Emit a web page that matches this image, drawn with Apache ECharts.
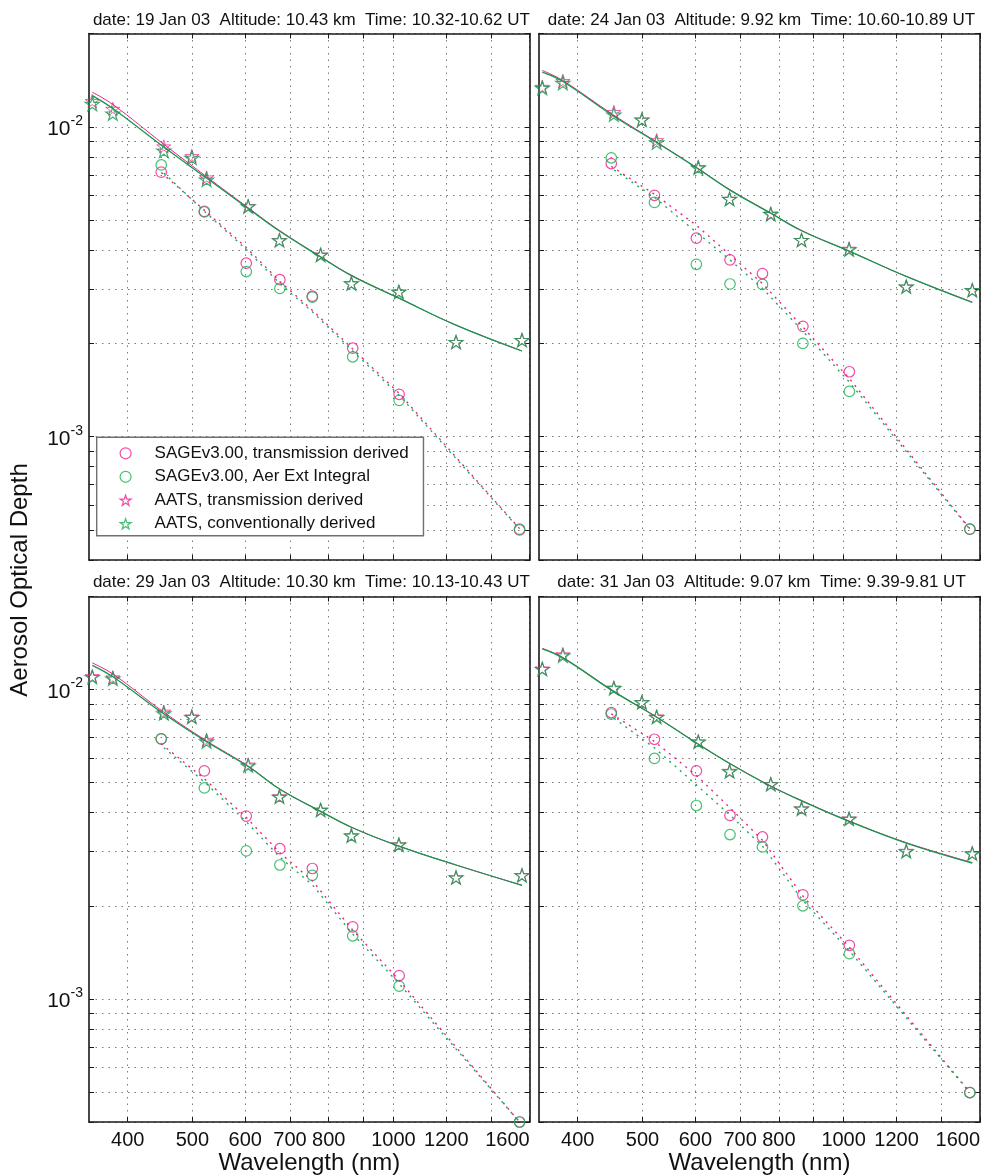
<!DOCTYPE html>
<html><head><meta charset="utf-8">
<script src="https://cdn.jsdelivr.net/npm/echarts@6/dist/echarts.min.js"></script>
<style>html,body{margin:0;padding:0;background:#fff}#c{width:992px;height:1176px}</style>
</head><body><div id="c"></div><script>
// ---------- DATA ----------
const wlAATS = [354, 380, 453, 499, 525, 606, 675, 778, 865, 1019, 1241, 1558];
const wlFit  = [354, 380, 453, 525, 606, 675, 778, 865, 1019, 1241, 1558];
const wlSAGE = [449, 521, 602, 676, 756, 869, 1020, 1545];

const xTickValues  = [400, 500, 600, 700, 800, 900, 1000, 1200, 1400, 1600];
const xLabelValues = [400, 500, 600, 700, 800, 1000, 1200, 1600];
const yTickValues  = [0.0004, 0.0005, 0.0006, 0.0007, 0.0008, 0.0009, 0.001, 0.002, 0.003, 0.004, 0.005, 0.006, 0.007, 0.008, 0.009, 0.01, 0.02];
const yLabelValues = [0.001, 0.01];

const titles = [
  'date: 19 Jan 03  Altitude: 10.43 km  Time: 10.32-10.62 UT',
  'date: 24 Jan 03  Altitude: 9.92 km  Time: 10.60-10.89 UT',
  'date: 29 Jan 03  Altitude: 10.30 km  Time: 10.13-10.43 UT',
  'date: 31 Jan 03  Altitude: 9.07 km  Time: 9.39-9.81 UT'
];
const seriesNames = ['SAGEv3.00, transmission derived', 'SAGEv3.00, Aer Ext Integral', 'AATS, transmission derived', 'AATS, conventionally derived'];

// Panel 1 - 19 Jan 03
const p1AatsTrans = [0.0121, 0.01142, 0.00864, 0.00804, 0.00686, 0.00555, 0.00431, 0.00387, 0.00313, 0.00294, 0.00202, 0.00205];
const p1AatsConv  = [0.01185, 0.01103, 0.00837, 0.00794, 0.00675, 0.00553, 0.0043, 0.00386, 0.00312, 0.00293, 0.00202, 0.00205];
const p1FitTrans  = [0.01293, 0.0118, 0.00878, 0.0069, 0.00548, 0.00463, 0.00381, 0.00332, 0.0028, 0.00229, 0.00189];
const p1FitConv   = [0.0126, 0.01145, 0.0086, 0.00683, 0.00545, 0.00461, 0.0038, 0.00331, 0.0028, 0.00229, 0.00189];
const p1SageTrans = [0.00714, 0.00533, 0.00363, 0.00321, 0.00284, 0.00193, 0.00137, 0.0005];
const p1SageExt   = [0.00753, 0.00531, 0.00341, 0.00301, 0.00282, 0.00181, 0.00131, 0.000503];
const p1DotTrans  = [0.00712, 0.00538, 0.00408, 0.00317, 0.00256, 0.00192, 0.00138, 0.000505];
const p1DotExt    = [0.00722, 0.00534, 0.00402, 0.00312, 0.00253, 0.00189, 0.00136, 0.000503];

// Panel 2 - 24 Jan 03
const p2AatsTrans = [0.01345, 0.01405, 0.01115, 0.01054, 0.00905, 0.00741, 0.00585, 0.00525, 0.00431, 0.00404, 0.00305, 0.00297];
const p2AatsConv  = [0.01335, 0.01385, 0.01095, 0.01054, 0.0089, 0.00738, 0.00585, 0.00522, 0.00431, 0.00402, 0.00305, 0.00297];
const p2FitTrans  = [0.0152, 0.0141, 0.0109, 0.00893, 0.00733, 0.00628, 0.00527, 0.00463, 0.00397, 0.00329, 0.00272];
const p2FitConv   = [0.015, 0.014, 0.01082, 0.0089, 0.00731, 0.00626, 0.00526, 0.00462, 0.00397, 0.00329, 0.00271];
const p2SageTrans = [0.00761, 0.00601, 0.00437, 0.00372, 0.00336, 0.00227, 0.00162, 0.000503];
const p2SageExt   = [0.00794, 0.0057, 0.0036, 0.00311, 0.0031, 0.002, 0.0014, 0.000503];
const p2DotTrans  = [0.00745, 0.00606, 0.00481, 0.00386, 0.00312, 0.00226, 0.00154, 0.000505];
const p2DotExt    = [0.00736, 0.00592, 0.00457, 0.00372, 0.00301, 0.00219, 0.0015, 0.000503];

// Panel 3 - 29 Jan 03
const p3AatsTrans = [0.01105, 0.01095, 0.00848, 0.00819, 0.00688, 0.00572, 0.00452, 0.00409, 0.00338, 0.00316, 0.00247, 0.00251];
const p3AatsConv  = [0.01098, 0.01085, 0.00838, 0.00815, 0.0068, 0.00568, 0.0045, 0.00408, 0.00337, 0.00315, 0.00247, 0.00251];
const p3FitTrans  = [0.0122, 0.01123, 0.00845, 0.00683, 0.00566, 0.00478, 0.00404, 0.00359, 0.00312, 0.00271, 0.00233];
const p3FitConv   = [0.01198, 0.011, 0.00835, 0.00678, 0.00564, 0.00477, 0.00404, 0.00359, 0.00312, 0.00271, 0.00233];
const p3SageTrans = [0.00693, 0.00546, 0.0039, 0.00306, 0.00264, 0.00171, 0.00119, 0.0004];
const p3SageExt   = [0.00693, 0.00481, 0.00301, 0.00271, 0.00251, 0.0016, 0.0011, 0.0004];
const p3DotTrans  = [0.00668, 0.00515, 0.00386, 0.00297, 0.00241, 0.00167, 0.00115, 0.0004];
const p3DotExt    = [0.0066, 0.00503, 0.00374, 0.00287, 0.00234, 0.00162, 0.00112, 0.0004];

// Panel 4 - 31 Jan 03
const p4AatsTrans = [0.0117, 0.013, 0.01015, 0.0091, 0.00819, 0.0068, 0.00546, 0.00495, 0.00413, 0.00383, 0.00301, 0.00296];
const p4AatsConv  = [0.01165, 0.0129, 0.0101, 0.0091, 0.00815, 0.00678, 0.00544, 0.00494, 0.00412, 0.00382, 0.003, 0.00295];
const p4FitTrans  = [0.01359, 0.0127, 0.00988, 0.00815, 0.00667, 0.00578, 0.00488, 0.00438, 0.00376, 0.0032, 0.00276];
const p4FitConv   = [0.01355, 0.01266, 0.00985, 0.00814, 0.00666, 0.00577, 0.00487, 0.00437, 0.00375, 0.00319, 0.00275];
const p4SageTrans = [0.00843, 0.00691, 0.00546, 0.00392, 0.00334, 0.00217, 0.00149, 0.000498];
const p4SageExt   = [0.00834, 0.00599, 0.00422, 0.0034, 0.0031, 0.002, 0.0014, 0.000498];
const p4DotTrans  = [0.00835, 0.0068, 0.00528, 0.00415, 0.00326, 0.00215, 0.00147, 0.0005];
const p4DotExt    = [0.0082, 0.00648, 0.00492, 0.00393, 0.00312, 0.00208, 0.00143, 0.000498];

const panels = [
  {aT: p1AatsTrans, aC: p1AatsConv, fT: p1FitTrans, fC: p1FitConv, sT: p1SageTrans, sE: p1SageExt, dT: p1DotTrans, dE: p1DotExt},
  {aT: p2AatsTrans, aC: p2AatsConv, fT: p2FitTrans, fC: p2FitConv, sT: p2SageTrans, sE: p2SageExt, dT: p2DotTrans, dE: p2DotExt},
  {aT: p3AatsTrans, aC: p3AatsConv, fT: p3FitTrans, fC: p3FitConv, sT: p3SageTrans, sE: p3SageExt, dT: p3DotTrans, dE: p3DotExt},
  {aT: p4AatsTrans, aC: p4AatsConv, fT: p4FitTrans, fC: p4FitConv, sT: p4SageTrans, sE: p4SageExt, dT: p4DotTrans, dE: p4DotExt}
];

// ---------- STYLE / LAYOUT ----------
const FONT = '"Liberation Sans", Arial, Helvetica, sans-serif';
const TXT = '#111';
const MAG = '#ec1f8e';
const GRN = '#14b04e';
const GRN_D = '#13994a';
const FRAME = '#1a1a1a';
const GRIDC = '#7a7a7a';
const STAR = 'path://M50 0 L61.23 34.55 L97.55 34.55 L68.17 55.9 L79.39 90.45 L50 69.1 L20.61 90.45 L31.83 55.9 L2.45 34.55 L38.77 34.55 Z';

const grids = [
  {left: 89, top: 33.5, width: 440.7, height: 526.5},
  {left: 539, top: 33.5, width: 441, height: 526.5},
  {left: 89, top: 596.5, width: 440.7, height: 525.5},
  {left: 539, top: 596.5, width: 441, height: 525.5}
];
const titleTops = [12, 12, 574, 574];

const zip = (xs, ys) => xs.map((x, i) => [x, ys[i]]);

const xAxes = [], yAxes = [], series = [], titleOpts = [];
grids.forEach((g, i) => {
  const bottomRow = i >= 2;
  const frameLine = {show: true, onZero: false, lineStyle: {color: FRAME, width: 1.6}};
  xAxes.push({
    type: 'log', logBase: 10, gridIndex: i, position: 'bottom', min: 350, max: 1600,
    axisLine: frameLine,
    axisTick: {show: true, inside: true, length: 5, customValues: xTickValues, lineStyle: {color: FRAME, width: 1}},
    axisLabel: {show: bottomRow, customValues: xLabelValues, fontSize: 20, fontFamily: FONT, color: TXT, margin: 8,
      alignMaxLabel: 'right', formatter: v => String(Math.round(v))},
    splitLine: {show: true, lineStyle: {color: GRIDC, width: 1, type: [1.5, 5]}},
    name: bottomRow ? 'Wavelength (nm)' : '', nameLocation: 'middle', nameGap: 28,
    nameTextStyle: {fontSize: 24, fontFamily: FONT, color: TXT}
  });
  xAxes.push({
    type: 'log', logBase: 10, gridIndex: i, position: 'top', min: 350, max: 1600,
    axisLine: frameLine,
    axisTick: {show: true, inside: true, length: 5, customValues: xTickValues, lineStyle: {color: FRAME, width: 1}},
    axisLabel: {show: false}, splitLine: {show: false}
  });
  yAxes.push({
    type: 'log', logBase: 10, gridIndex: i, position: 'left', min: 0.0004, max: 0.02,
    axisLine: frameLine,
    axisTick: {show: true, inside: true, length: 5, customValues: yTickValues, lineStyle: {color: FRAME, width: 1}},
    axisLabel: {show: i % 2 === 0, customValues: yLabelValues, margin: 6,
      formatter: v => '{b|10}{s|' + Math.round(Math.log10(v)) + '}',
      rich: {
        b: {fontSize: 21, fontFamily: FONT, color: TXT, lineHeight: 26, verticalAlign: 'bottom'},
        s: {fontSize: 14, fontFamily: FONT, color: TXT, lineHeight: 14, verticalAlign: 'top'}
      }},
    splitLine: {show: true, lineStyle: {color: GRIDC, width: 1, type: [1.5, 5]}}
  });
  yAxes.push({
    type: 'log', logBase: 10, gridIndex: i, position: 'right', min: 0.0004, max: 0.02,
    axisLine: frameLine,
    axisTick: {show: true, inside: true, length: 5, customValues: yTickValues, lineStyle: {color: FRAME, width: 1}},
    axisLabel: {show: false}, splitLine: {show: false}
  });

  const p = panels[i];
  const ax = {xAxisIndex: 2 * i, yAxisIndex: 2 * i};
  const common = Object.assign({silent: true, animation: false, emphasis: {disabled: true}}, ax);
  series.push(Object.assign({type: 'line', name: 'dotT' + i, data: zip(wlSAGE, p.dT), symbol: 'none', clip: false,
    lineStyle: {color: MAG, width: 1.4, type: [2, 5]}}, common));
  series.push(Object.assign({type: 'line', name: 'dotE' + i, data: zip(wlSAGE, p.dE), symbol: 'none', clip: false,
    lineStyle: {color: GRN, width: 1.4, type: [2, 5], dashOffset: 3.5}}, common));
  series.push(Object.assign({type: 'line', name: 'fitT' + i, data: zip(wlFit, p.fT), symbol: 'none', smooth: 0.4, clip: false,
    lineStyle: {color: MAG, width: 1.0}}, common));
  series.push(Object.assign({type: 'line', name: 'fitC' + i, data: zip(wlFit, p.fC), symbol: 'none', smooth: 0.4, clip: false,
    lineStyle: {color: GRN_D, width: 1.3}}, common));
  series.push(Object.assign({type: 'scatter', name: seriesNames[0], data: zip(wlSAGE, p.sT), symbol: 'circle', symbolSize: 10.5, clip: false,
    itemStyle: {color: 'rgba(0,0,0,0)', borderColor: MAG, borderWidth: 1.2}}, common));
  series.push(Object.assign({type: 'scatter', name: seriesNames[1], data: zip(wlSAGE, p.sE), symbol: 'circle', symbolSize: 10.5, clip: false,
    itemStyle: {color: 'rgba(0,0,0,0)', borderColor: GRN, borderWidth: 1.2}}, common));
  series.push(Object.assign({type: 'scatter', name: seriesNames[2], data: zip(wlAATS, p.aT), symbol: STAR, symbolSize: 14, symbolKeepAspect: true, clip: false,
    itemStyle: {color: 'rgba(0,0,0,0)', borderColor: MAG, borderWidth: 0.9}}, common));
  series.push(Object.assign({type: 'scatter', name: seriesNames[3], data: zip(wlAATS, p.aC), symbol: STAR, symbolSize: 14, symbolKeepAspect: true, clip: false,
    itemStyle: {color: 'rgba(0,0,0,0)', borderColor: GRN_D, borderWidth: 1.2}}, common));

  titleOpts.push({
    text: titles[i], left: g.left + g.width / 2 + 2, top: titleTops[i], textAlign: 'center', padding: 0,
    textStyle: {fontSize: 17, fontWeight: 'normal', fontFamily: FONT, color: TXT}
  });
});

const legendIconStyle = (c) => ({color: 'rgba(0,0,0,0)', borderColor: c, borderWidth: 1.2});

const option = {
  backgroundColor: '#fff',
  animation: false,
  title: titleOpts,
  grid: grids.map(g => Object.assign({containLabel: false}, g)),
  xAxis: xAxes,
  yAxis: yAxes,
  legend: {
    orient: 'vertical', left: 96.7, top: 437.3,
    padding: [7, 14.7, 3, 22.8], itemWidth: 11, itemHeight: 11, itemGap: 5.5,
    backgroundColor: '#fff', borderColor: '#707070', borderWidth: 1.4, selectedMode: false,
    textStyle: {fontSize: 17, fontFamily: FONT, color: TXT, lineHeight: 18, padding: [0, 0, 0, 18.5]},
    data: [
      {name: seriesNames[0], icon: 'circle', itemStyle: legendIconStyle(MAG)},
      {name: seriesNames[1], icon: 'circle', itemStyle: legendIconStyle(GRN)},
      {name: seriesNames[2], icon: STAR, itemStyle: legendIconStyle(MAG)},
      {name: seriesNames[3], icon: STAR, itemStyle: legendIconStyle(GRN)}
    ]
  },
  graphic: [{
    type: 'text', x: 20, y: 580, rotation: Math.PI / 2, silent: true,
    style: {text: 'Aerosol Optical Depth', fontSize: 24, fontFamily: FONT, fill: TXT, align: 'center', verticalAlign: 'middle'}
  }],
  series: series
};

const chart = echarts.init(document.getElementById('c'), null, {renderer: 'canvas'});
chart.setOption(option);
</script></body></html>
